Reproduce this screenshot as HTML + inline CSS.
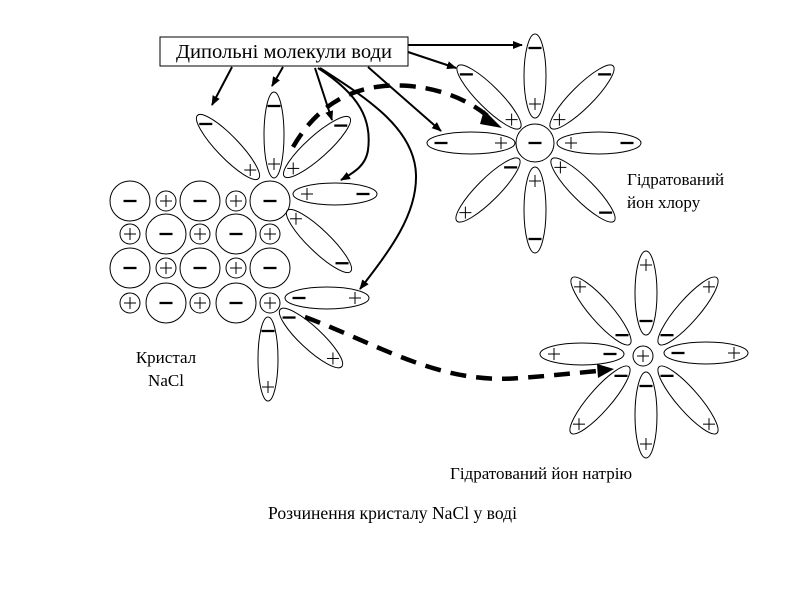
<!DOCTYPE html>
<html><head><meta charset="utf-8"><style>
html,body{margin:0;padding:0;background:#fff;width:800px;height:600px;overflow:hidden}
svg{display:block}
text{font-family:"Liberation Serif",serif;fill:#000}
</style></head><body>
<svg id="s" width="800" height="600" viewBox="0 0 800 600" xmlns="http://www.w3.org/2000/svg">
<defs>
<marker id="ah" markerWidth="10" markerHeight="10" refX="9" refY="5" orient="auto" markerUnits="userSpaceOnUse"><path d="M0,1 L10,5 L0,9 Z" fill="#000"/></marker>
</defs>
<g id="g" fill="none" stroke="#000"></g>
<rect x="160" y="37" width="248" height="29" fill="#fff" stroke="#000" stroke-width="1"/>
<text x="284" y="58" font-size="20" text-anchor="middle" textLength="216" lengthAdjust="spacingAndGlyphs">Дипольні молекули води</text>
<text x="627" y="185" font-size="17">Гідратований</text>
<text x="627" y="208" font-size="17">йон хлору</text>
<text x="166" y="363" font-size="17" text-anchor="middle">Кристал</text>
<text x="166" y="386" font-size="17" text-anchor="middle">NaCl</text>
<text x="450" y="479" font-size="17">Гідратований йон натрію</text>
<text x="268" y="519" font-size="17.5" textLength="249" lengthAdjust="spacingAndGlyphs">Розчинення кристалу NaCl у воді</text>
<g fill="none" stroke="#000" stroke-width="2">
<path d="M232,67 L212,105" marker-end="url(#ah)"/>
<path d="M283,67 L272,86" marker-end="url(#ah)"/>
<path d="M315,68 L332,120" marker-end="url(#ah)"/>
<path d="M318,68 C360,95 372,120 368,150 C366,165 355,172 341,180" marker-end="url(#ah)"/>
<path d="M320,68 C370,100 415,130 416,175 C417,215 390,250 360,289" marker-end="url(#ah)"/>
<path d="M368,67 L441,131" marker-end="url(#ah)"/>
<path d="M408,45 L522,45" marker-end="url(#ah)"/>
<path d="M408,52 L456,68" marker-end="url(#ah)"/>
</g>
<g fill="none" stroke="#000" stroke-width="4.5" stroke-dasharray="16,10">
<path d="M293,147 C320,100 360,82 410,86 C450,90 475,105 490,118"/>
<path d="M305,317 C380,345 440,385 520,378 C560,375 585,372 598,371"/>
</g>
<path d="M484,110 L502,128 L480,124 Z" fill="#000"/>
<path d="M597,364 L614,369 L598,378 Z" fill="#000"/>
</svg>
<script>
var g=document.getElementById('g'),NS='http://www.w3.org/2000/svg';
function el(t,a){var e=document.createElementNS(NS,t);for(var k in a)e.setAttribute(k,a[k]);g.appendChild(e);return e;}
function minus(x,y){el('line',{x1:x-6.5,y1:y,x2:x+6.5,y2:y,'stroke-width':2.3});}
function plus(x,y){el('line',{x1:x-6,y1:y,x2:x+6,y2:y,'stroke-width':1});el('line',{x1:x,y1:y-6,x2:x,y2:y+6,'stroke-width':1});}
function sign(s,x,y){s=='+'?plus(x,y):minus(x,y);}
function ion(x,y,r,s){el('circle',{cx:x,cy:y,r:r,'stroke-width':1});sign(s,x,y);}
function petal(cx,cy,ang,rx,ry,s1,s2,off){
 el('ellipse',{cx:cx,cy:cy,rx:rx,ry:ry,transform:'rotate('+ang+' '+cx+' '+cy+')','stroke-width':1});
 var a=ang*Math.PI/180,d=rx-(off||12),dx=Math.cos(a)*d,dy=Math.sin(a)*d;
 sign(s1,cx-dx,cy-dy);sign(s2,cx+dx,cy+dy);
}
var rows=[[201,'B'],[234,'S'],[268,'B'],[303,'S']];
var xs=[130,166,200,236,270];
rows.forEach(function(r,i){xs.forEach(function(x,j){var big=((j%2==0)==(r[1]=='B'));
 ion(x,r[0],big?20:10,big?'-':'+');});});
petal(228,147,46,44,11,'-','+');
petal(274,135,90,43,10,'-','+',14);
petal(317,147,-42,44,11,'+','-');
petal(335,194,0,42,11,'+','-',14);
petal(319,241,44,44,11,'+','-');
petal(327,298,0,42,11,'-','+',14);
petal(311,338,43,42,11,'-','+');
petal(268,359,90,42,10,'-','+',14);
ion(535,143,19,'-');
petal(535,76,90,42,11,'-','+',14);
petal(535,210,90,43,11,'+','-',14);
petal(471,143,0,44,11,'-','+',14);
petal(599,143,0,42,11,'+','-',14);
petal(489,97,45,44,11,'-','+');
petal(582,97,-45,44,11,'+','-');
petal(488,190,-45,44,11,'+','-');
petal(583,190,45,44,11,'+','-');
ion(643,356,10,'+');
petal(646,293,90,42,11,'+','-',14);
petal(646,415,90,43,11,'-','+',14);
petal(582,354,0,42,11,'+','-',14);
petal(706,353,0,42,11,'-','+',14);
petal(601,311,49,44,11,'+','-');
petal(688,311,-49,44,11,'-','+');
petal(600,400,-49,44,11,'+','-');
petal(688,400,49,44,11,'-','+');
</script>
</body></html>
